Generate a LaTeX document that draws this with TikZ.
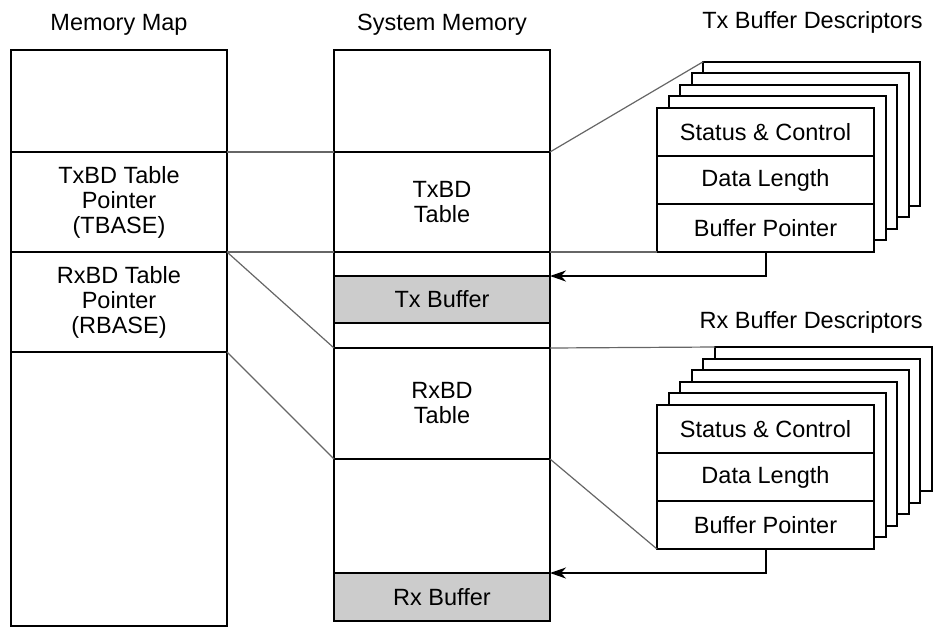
\documentclass[tikz,border=0pt]{standalone}
\usepackage{fontspec}
\setmainfont{Liberation Sans}
\usetikzlibrary{arrows.meta, positioning}

\begin{document}
\begin{tikzpicture}[
  x=0.5pt, y=-0.5pt,
  cell/.style={draw, line width=1pt, minimum width=108pt, inner sep=0pt, outer sep=0pt, align=center, font=\fontsize{11.75}{12.5}\selectfont},
  buf/.style={cell, fill=black!20},
  desc/.style={cell, fill=white, minimum width=108.5pt, minimum height=24pt},
  sheet/.style={draw, line width=1pt, fill=white, minimum width=108.5pt, minimum height=72pt, inner sep=0pt, outer sep=0pt},
  title/.style={font=\fontsize{11.75}{12.5}\selectfont, inner sep=0pt, anchor=base},
  link/.style={black!60, line width=0.6pt},
  ptr/.style={-{Stealth[length=8pt, width=5.5pt, inset=2.5pt]}, line width=1pt},
]
\useasboundingbox (0,0) rectangle (937,628);

% Titles
\node[title] (mmtitle) at (119,30) {Memory Map};
\node[title] (smtitle) at (442,30) {System Memory};
\node[title, anchor=base east] (txtitle) at (923,28) {Tx Buffer Descriptors};
\node[title, anchor=base east] (rxtitle) at (923,328) {Rx Buffer Descriptors};

% Memory map
\node[cell, minimum height=51pt] (mmtop) at (119,101) {};
\node[cell, minimum height=50pt] (mmtbase) at (119,202) {TxBD Table\\Pointer\\(TBASE)};
\node[cell, minimum height=50pt] (mmrbase) at (119,302) {RxBD Table\\Pointer\\(RBASE)};
\node[cell, minimum height=137pt] (mmrest) at (119,489) {};

% System memory
\node[cell, minimum height=51pt] (smtop) at (442,101) {};
\node[cell, minimum height=50pt] (smtxbd) at (442,202) {TxBD\\Table};
\node[cell, minimum height=12pt] (smgapa) at (442,264) {};
\node[buf, minimum height=23.5pt] (smtxbuf) at (442,299.5) {Tx Buffer};
\node[cell, minimum height=12.5pt] (smgapb) at (442,335.5) {};
\node[cell, minimum height=55.5pt] (smrxbd) at (442,403.5) {RxBD\\Table};
\node[cell, minimum height=57pt] (smfree) at (442,516) {};
\node[buf, minimum height=24pt] (smrxbuf) at (442,597) {Rx Buffer};

% Tx buffer descriptors
\foreach \i in {4,3,2,1}
  \node[sheet] (txs\i) at ({765.5+11.6*\i},{180-11.6*\i}) {};
\node[desc] (txsc) at (765.5,132) {Status \& Control};
\node[desc] (txdl) at (765.5,180) {Data Length};
\node[desc] (txbp) at (765.5,228) {Buffer Pointer};

% Rx buffer descriptors
\foreach \i in {5,4,3,2,1}
  \node[sheet] (rxs\i) at ({765.5+11.6*\i},{477-11.6*\i}) {};
\node[desc] (rxsc) at (765.5,429) {Status \& Control};
\node[desc] (rxdl) at (765.5,477) {Data Length};
\node[desc] (rxbp) at (765.5,525) {Buffer Pointer};

% Links
\draw[link] (mmtbase.north east) -- (smtxbd.north west);
\draw[link] (mmtbase.south east) -- (smtxbd.south west);
\draw[link] (mmrbase.north east) -- (smrxbd.north west);
\draw[link] (mmrbase.south east) -- (smfree.north west);
\draw[link] (smtxbd.north east) -- (txs4.north west);
\draw[link] (smtxbd.south east) -- (txbp.south west);
\draw[link] (smrxbd.north east) -- (rxs5.north west);
\draw[link] (smrxbd.south east) -- (rxbp.south west);

% Pointers
\draw[ptr] (txbp.south) |- (smtxbuf.north east);
\draw[ptr] (rxbp.south) |- (smrxbuf.north east);
\end{tikzpicture}
\end{document}
